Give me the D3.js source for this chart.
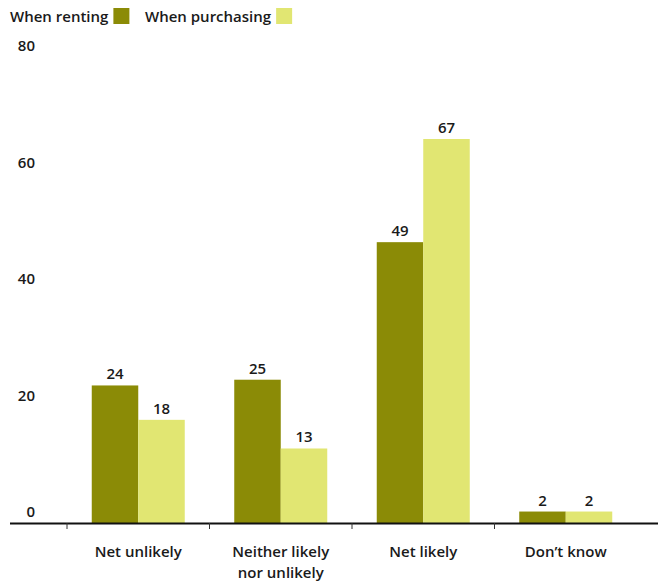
<!DOCTYPE html>
<html><head><meta charset="utf-8">
<script src="https://cdn.jsdelivr.net/npm/d3@7"></script>
<style>body{margin:0;background:#fff}svg text{font-family:"Open Sans",sans-serif;font-weight:600;fill:#1a1a1a}</style>
</head><body>
<svg id="c" width="658" height="583"></svg>
<script>
const categories = [["Net unlikely"], ["Neither likely", "nor unlikely"], ["Net likely"], ["Don’t know"]];
const seriesNames = ["When renting", "When purchasing"];
const renting = [24, 25, 49, 2];
const purchasing = [18, 13, 67, 2];
const yTicks = [0, 20, 40, 60, 80];
const colors = ["#8b8b06", "#e1e672"];

const svg = d3.select("#c");
const keys = categories.map((c, i) => i);
const x0 = d3.scaleBand().domain(keys).range([67, 637]).padding(0);
const step = x0.step();
const x1 = d3.scaleBand().domain([0, 1]).range([(step - 93) / 2, (step + 93) / 2]).padding(0);
const y = d3.scaleLinear().domain([0, 80]).range([523, 64.5]);
const yLab = d3.scaleLinear().domain([0, 80]).range([512, 46]);
const series = [renting, purchasing];

// y tick labels
svg.append("g").selectAll("text").data(yTicks).join("text")
  .attr("x", 35).attr("y", d => yLab(d)).attr("dy", "0.35em")
  .attr("text-anchor", "end").style("font-size", "15px").text(d => d);

// bars
const g = svg.append("g");
series.forEach((vals, s) => {
  g.selectAll(null).data(vals).join("rect")
    .attr("x", (d, i) => x0(i) + x1(s)).attr("width", x1.bandwidth())
    .attr("y", d => y(d)).attr("height", d => y(0) - y(d))
    .attr("fill", colors[s]);
  g.selectAll(null).data(vals).join("text")
    .attr("x", (d, i) => x0(i) + x1(s) + x1.bandwidth() / 2)
    .attr("y", d => y(d) - 6).attr("text-anchor", "middle")
    .style("font-size", "15px").text(d => d);
});

// axis
svg.append("line").attr("x1", 10).attr("x2", 658).attr("y1", y(0) + 0.5).attr("y2", y(0) + 0.5)
  .attr("stroke", "#111").attr("stroke-width", 2);
svg.append("g").selectAll("line").data(keys).join("line")
  .attr("x1", d => x0(d)).attr("x2", d => x0(d)).attr("y1", y(0)).attr("y2", y(0) + 6)
  .attr("stroke", "#333").attr("stroke-width", 1);

// category labels
svg.append("g").selectAll("text").data(keys).join("text")
  .attr("x", d => x0(d) + step / 2).attr("y", 557).attr("text-anchor", "middle")
  .style("font-size", "15px")
  .each(function (d) {
    d3.select(this).selectAll("tspan").data(categories[d]).join("tspan")
      .attr("x", x0(d) + step / 2).attr("dy", (t, j) => j === 0 ? 0 : 21).text(t => t);
  });

// legend
const legX = [10, 145];
const leg = svg.append("g");
seriesNames.forEach((n, i) => {
  const t = leg.append("text").attr("x", legX[i]).attr("y", 22).style("font-size", "15px").text(n);
  const w = t.node().getComputedTextLength();
  leg.append("rect").attr("x", legX[i] + w + 5).attr("y", 8).attr("width", 16).attr("height", 16).attr("fill", colors[i]);
});
</script>
</body></html>
